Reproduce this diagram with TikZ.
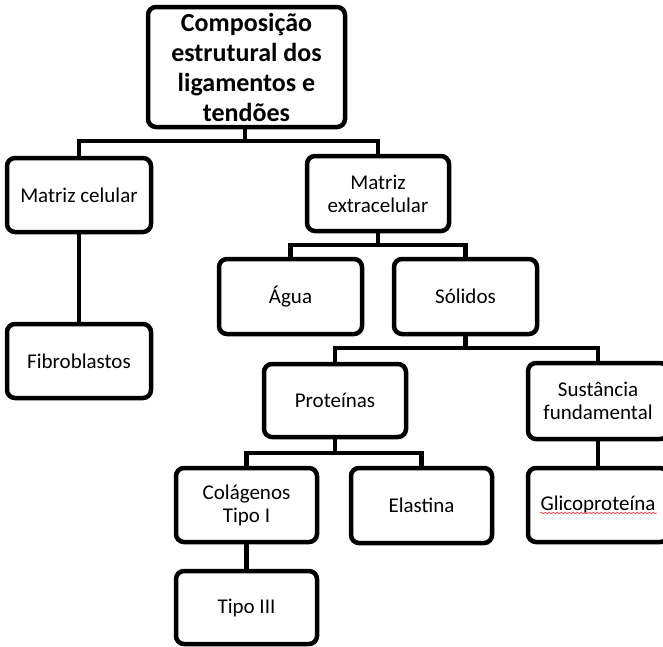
\documentclass[tikz,border=0pt]{standalone}
\usepackage{fontspec}
\setmainfont{Carlito}
\usetikzlibrary{decorations.pathmorphing}
\tikzset{
  box/.style={draw=black, line width=4.5pt, rounded corners=8pt, fill=white,
    minimum width=#1, minimum height=74pt, inner sep=0pt, align=center,
    font=\fontsize{21}{23}\selectfont},
  box/.default=143pt,
  link/.style={draw=black, line width=4.5pt},
}
\begin{document}
\begin{tikzpicture}[x=1pt,y=-1pt]
\useasboundingbox (0,0) rectangle (663,646);
% nodes
\node[box=197pt, minimum height=120pt, font=\fontsize{26}{30}\selectfont\bfseries] (title) at (246.5,67)
  {Composição\\estrutural dos\\ligamentos e\\tendões};
\node[box=144pt] (mcel) at (79,195) {Matriz celular};
\node[box=144pt] (fibro) at (79,361) {Fibroblastos};
\node[box=142pt, minimum height=75pt] (mext) at (378,193.5) {Matriz\\extracelular};
\node[box=143pt, minimum height=75pt] (agua) at (290.5,296.5) {Água};
\node[box=143pt, minimum height=75pt] (sol) at (465.5,296.5) {Sólidos};
\node[box=142pt, minimum height=73pt] (prot) at (335,400.5) {Proteínas};
\node[box=140pt, minimum height=76pt] (sust) at (598,401) {Sustância\\fundamental};
\node[box=141pt] (col) at (246.5,505) {Colágenos\\Tipo I};
\node[box=141pt, minimum height=75pt] (elas) at (421.5,505.5) {Elastina};
\node[box=140pt] (glico) at (598,505) {Glicoproteína};
\node[box=141pt, minimum height=73pt] (t3) at (246.5,607.5) {Tipo III};
% connectors
\coordinate (b1) at (245,141);
\coordinate (b2) at (378,245);
\coordinate (b3) at (465.5,348);
\coordinate (b4) at (335,453);
\draw[link] (title.south -| b1) -- (b1);
\draw[link] (mcel.north) |- (b1) -| (mext.north);
\draw[link] (mcel.south) -- (fibro.north);
\draw[link] (mext.south) -- (b2);
\draw[link] (agua.north) |- (b2) -| (sol.north);
\draw[link] (sol.south) -- (b3);
\draw[link] (prot.north) |- (b3) -| (sust.north);
\draw[link] (prot.south) -- (b4);
\draw[link] (col.north) |- (b4) -| (elas.north);
\draw[link] (sust.south) -- (glico.north);
\draw[link] (col.south) -- (t3.north);
% spell-check squiggle
\draw[red!75, line width=0.7pt, decorate, decoration={snake, amplitude=0.7pt, segment length=4pt}]
  (540,513) -- (657,513);
\end{tikzpicture}
\end{document}
